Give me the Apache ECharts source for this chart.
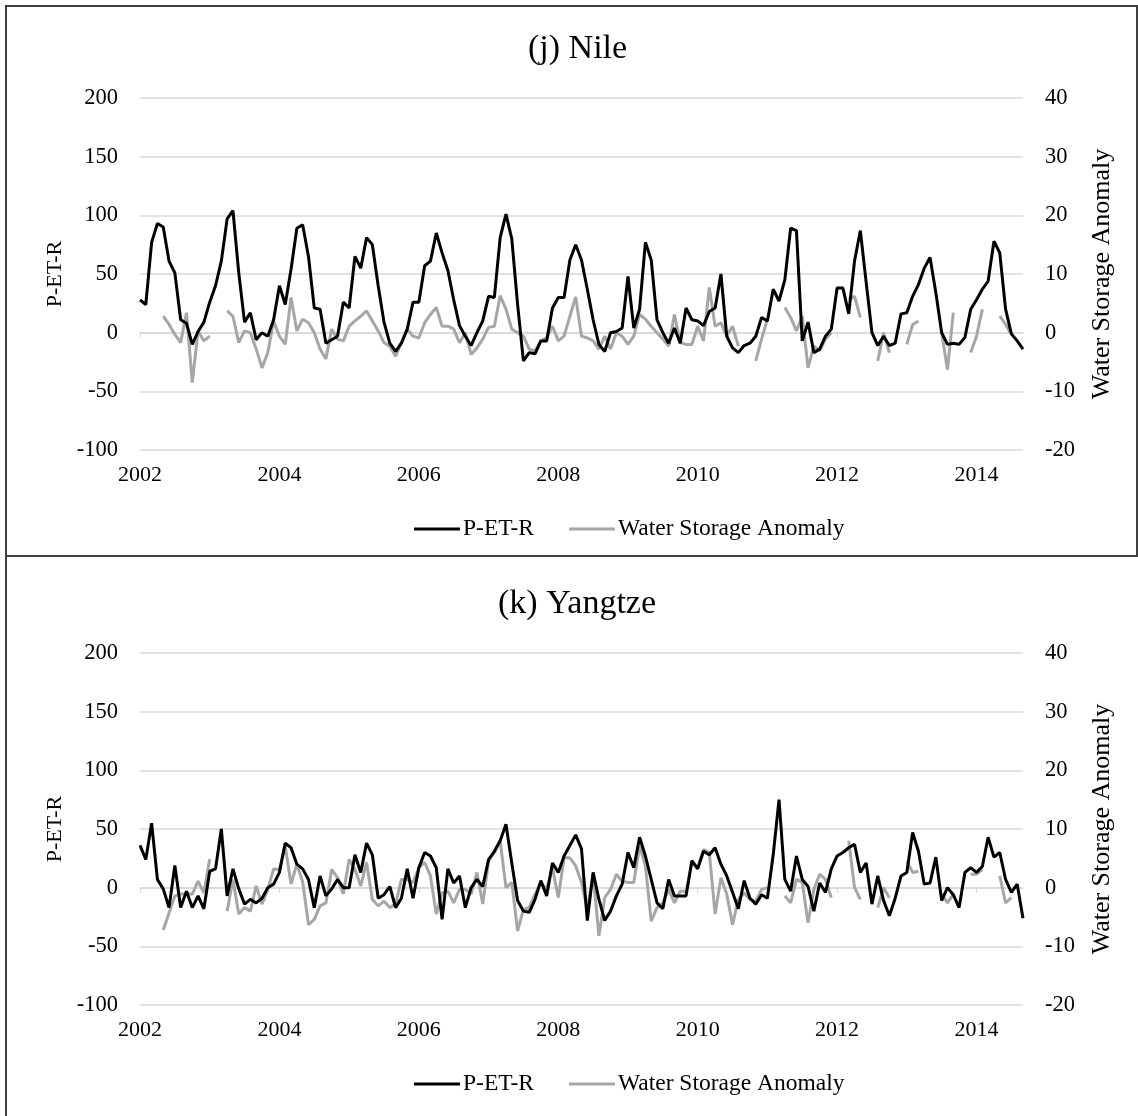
<!DOCTYPE html>
<html>
<head>
<meta charset="utf-8">
<script src="https://cdn.jsdelivr.net/npm/echarts@6/dist/echarts.min.js"></script>
<style>
  body { margin: 0; background: #fff; }
  .chart { position: absolute; left: 0; width: 1138px; }
  #nile { top: 0; height: 555px; }
  #yangtze { top: 555px; height: 561px; }
  .frame { position: absolute; pointer-events: none; border: 0 solid #404040; box-sizing: border-box; }
</style>
</head>
<body>
<div id="nile" class="chart"></div>
<div id="yangtze" class="chart"></div>
<div class="frame" style="left:5px; top:5px; width:1133px; height:552px; border-width:2px 2px 2px 2px;"></div>
<div class="frame" style="left:5px; top:555px; width:1133px; height:570px; border-width:0 0 0 2px;"></div>

<script>
// monthly categories, Jan 2002 .. Sep 2014
const months = []
for (let i = 0; i < 153; i++) {
  const y = 2002 + Math.floor(i / 12)
  const m = (i % 12) + 1
  months.push(y + '-' + (m < 10 ? '0' + m : m))
}
const yearTicks = ['2002', '2004', '2006', '2008', '2010', '2012', '2014']

// (j) Nile
const nilePET = [
  28, 24, 77, 93, 90, 61, 51, 11, 8, -10, 1, 9,
  26, 40, 61, 97, 104, 51, 9, 17, -6, 0, -3, 11,
  40, 24, 54, 89, 92, 65, 21, 20, -9, -6, -3, 26,
  21, 65, 55, 81, 75, 40, 9, -9, -16, -9, 3, 26,
  26, 57, 61, 85, 68, 53, 28, 6, -3, -11, 0, 10,
  31, 30, 81, 101, 80, 24, -24, -17, -18, -7, -7, 21,
  30, 30, 62, 75, 62, 37, 11, -10, -16, 0, 1, 4,
  48, 4, 20, 77, 62, 11, 0, -9, 4, -9, 21, 11,
  10, 6, 18, 21, 50, -3, -13, -17, -11, -9, -3, 13,
  10, 37, 27, 45, 89, 87, -7, 9, -17, -14, -3, 3,
  38, 38, 16, 61, 87, 43, 0, -11, -3, -11, -9, 16,
  17, 31, 41, 55, 64, 34, 0, -10, -9, -10, -4, 20,
  28, 37, 44, 78, 68, 20, -1, -7, -14
]
const nileWSA = [
  null, null, null, null, 2.8, 1.4, -0.3, -1.7, 3.4, -8.5, 0.3, -1.4,
  -0.6, null, null, 3.7, 2.8, -1.7, 0.3, 0, -2.8, -6, -3.4, 2.0,
  -0.6, -2, 6, 0.3, 2.3, 1.7, 0, -2.8, -4.5, 0.6, -1.1, -1.4,
  1.1, 2, 2.8, 3.7, 2, 0.3, -1.7, -2.3, -4, -1.7, 0.6, -0.6,
  -0.9, 1.7, 3.1, 4.3, 1.1, 1.1, 0.6, -1.7, 0, -3.7, -2.6, -1.1,
  0.9, 1.1, 6.3, 4, 0.6, 0, -0.6, -2.8, -3.1, -1.4, -0.9, 1.1,
  -1.4, -0.6, 2.8, 6.1, -0.6, -0.9, -1.4, -2.8, -0.6, -2.8, 0, -0.6,
  -2, -0.6, 3.1, 2.3, 1.1, 0, -1.1, -2.3, 3.1, -1.7, -2, -2,
  1.1, -1.4, 7.7, 1.1, 1.7, -0.6, 1.1, -2.3, null, null, -4.8, -1.1,
  2.3, null, null, 4.3, 2.6, 0.3, 2.8, -6, -2.3, -3.1, -1.1, 0,
  null, null, 5.7, 6.2, 2.6, null, null, -4.8, 0, -3.4, null, null,
  -2, 1.4, 2, null, null, null, 0, -6.3, 3.4, null, null, -3.4,
  -0.6, 4, null, null, 2.8, 1.4, -0.3, null, null
]

// (k) Yangtze
const yangtzePET = [
  36, 24, 55, 7, -1, -17, 19, -17, -3, -17, -7, -18,
  14, 16, 50, -7, 16, -1, -14, -10, -13, -9, 0, 3,
  13, 38, 34, 20, 16, 7, -17, 10, -7, -1, 7, 0,
  0, 28, 13, 38, 28, -9, -6, 1, -17, -9, 16, -9,
  17, 30, 27, 17, -27, 16, 4, 10, -17, 0, 7, 1,
  24, 31, 40, 54, 21, -11, -20, -21, -10, 6, -7, 21,
  13, 27, 36, 45, 33, -28, 13, -10, -28, -20, -7, 3,
  30, 17, 43, 27, 7, -13, -18, 7, -7, -7, -7, 23,
  16, 31, 28, 34, 20, 10, -4, -18, 6, -9, -14, -6,
  -9, 28, 75, 7, -3, 27, 7, 1, -20, 4, -4, 16,
  27, 30, 34, 37, 13, 21, -14, 10, -11, -24, -9, 10,
  13, 47, 31, 3, 4, 26, -11, 0, -6, -17, 13, 17,
  13, 18, 43, 26, 30, 7, -4, 3, -26
]
const yangtzeWSA = [
  null, null, null, null, -7.2, -4.3, -1.4, -1.1, -1.1, -1.1, 1.1, -0.9,
  4.9, null, null, -4, 1.4, -4.5, -3.4, -4, 0.3, -2.8, -0.3, 3.2,
  3.1, 7.1, 0.6, 4, 1, -6.3, -5.4, -3.1, -2.6, 3.1, 1.7, -1.1,
  4.8, 3.1, 0.3, 4.3, -2, -3.1, -2.3, -3.4, -2.8, 1.4, 1.4, 0.9,
  3.4, 4.3, 2, -4.5, -0.9, -0.6, -2.6, -0.3, -0.3, -1.1, 2.6, -2.8,
  4.5, 6, 8, 0, 0.9, -7.4, -3.7, -3.4, -1.1, 0.9, -0.3, 3.4,
  -1.7, 5.1, 5.1, 3.7, 0.9, -3.7, 2.3, -8.2, -1.7, -0.3, 2.3, 1.1,
  0.9, 0.9, 7.1, 3.7, -5.7, -3.4, -2.6, -0.3, -2.6, -0.6, -0.6, 4.3,
  3.4, 6.5, 6, -4.5, 1.7, -1.1, -6.3, -2, -0.9, -2, -2.3, -0.3,
  0, null, null, -1.4, -2.6, 1.4, 0.9, -6, -0.3, 2.3, 1.4, -1.7,
  null, null, 8, 0, -2, null, null, -3.4, 0, -1.7, null, null,
  4.5, 2.6, 2.8, null, null, null, -1.1, -2.6, -1.1, null, null, 2.3,
  2.3, 3.1, null, null, 2, -2.6, -1.7, null, null
]

const font = 'Liberation Serif'
const isYearTick = (i, v) => v.slice(5) === '01' && yearTicks.indexOf(v.slice(0, 4)) >= 0

function buildOption(title, titleLeft, pet, wsa) {
  return {
    animation: false,
    textStyle: { fontFamily: font, color: '#000' },
    title: {
      text: title,
      left: titleLeft,
      top: 27,
      textStyle: { fontFamily: font, fontSize: 34, fontWeight: 'normal', color: '#000' },
    },
    legend: {
      left: 409,
      top: 512,
      icon: 'rect',
      itemWidth: 46,
      itemHeight: 3,
      itemGap: 35,
      textStyle: { fontFamily: font, fontSize: 23.5, color: '#000', padding: [0, 0, 0, -2] },
      data: ['P-ET-R', 'Water Storage Anomaly'],
    },
    grid: { left: 140, right: 115, top: 98, height: 352 },
    xAxis: [
      {
        type: 'category',
        data: months,
        boundaryGap: false,
        axisLine: { show: false },
        axisTick: { show: false },
        axisLabel: {
          interval: isYearTick,
          formatter: (v) => v.slice(0, 4),
          fontFamily: font,
          fontSize: 22,
          color: '#000',
          margin: 14,
        },
        splitLine: { show: false },
      },
      {
        // axis line crossing at zero, ticks only
        type: 'category',
        data: months,
        boundaryGap: false,
        position: 'bottom',
        axisLine: { show: true, onZero: true, lineStyle: { color: '#d9d9d9', width: 1.5 } },
        axisTick: { show: true, interval: isYearTick, length: 5, lineStyle: { color: '#d9d9d9' } },
        axisLabel: { show: false },
        splitLine: { show: false },
      },
    ],
    yAxis: [
      {
        type: 'value',
        min: -100,
        max: 200,
        interval: 50,
        name: 'P-ET-R',
        nameLocation: 'middle',
        nameGap: 71,
        nameTextStyle: { fontFamily: font, fontSize: 22, color: '#000' },
        axisLine: { show: false },
        axisTick: { show: false },
        axisLabel: { fontFamily: font, fontSize: 22.5, color: '#000', margin: 22 },
        splitLine: { lineStyle: { color: '#d9d9d9', width: 1.5 } },
      },
      {
        type: 'value',
        min: -20,
        max: 40,
        interval: 10,
        position: 'right',
        name: 'Water Storage Anomaly',
        nameLocation: 'middle',
        nameGap: 66,
        nameTextStyle: { fontFamily: font, fontSize: 26, color: '#000' },
        axisLine: { show: false },
        axisTick: { show: false },
        axisLabel: { fontFamily: font, fontSize: 22.5, color: '#000', margin: 22 },
        splitLine: { show: false },
      },
    ],
    series: [
      {
        name: 'P-ET-R',
        type: 'line',
        xAxisIndex: 0,
        yAxisIndex: 0,
        data: pet,
        symbol: 'none',
        lineStyle: { color: '#000', width: 3 },
        itemStyle: { color: '#000' },
        z: 3,
      },
      {
        name: 'Water Storage Anomaly',
        type: 'line',
        xAxisIndex: 0,
        yAxisIndex: 1,
        data: wsa,
        symbol: 'none',
        connectNulls: false,
        lineStyle: { color: '#a6a6a6', width: 3 },
        itemStyle: { color: '#a6a6a6' },
        z: 2,
      },
    ],
  }
}

const nileChart = echarts.init(document.getElementById('nile'))
nileChart.setOption(buildOption('(j) Nile', 523, nilePET, nileWSA))

const yangtzeChart = echarts.init(document.getElementById('yangtze'))
yangtzeChart.setOption(buildOption('(k) Yangtze', 493, yangtzePET, yangtzeWSA))
</script>
</body>
</html>
